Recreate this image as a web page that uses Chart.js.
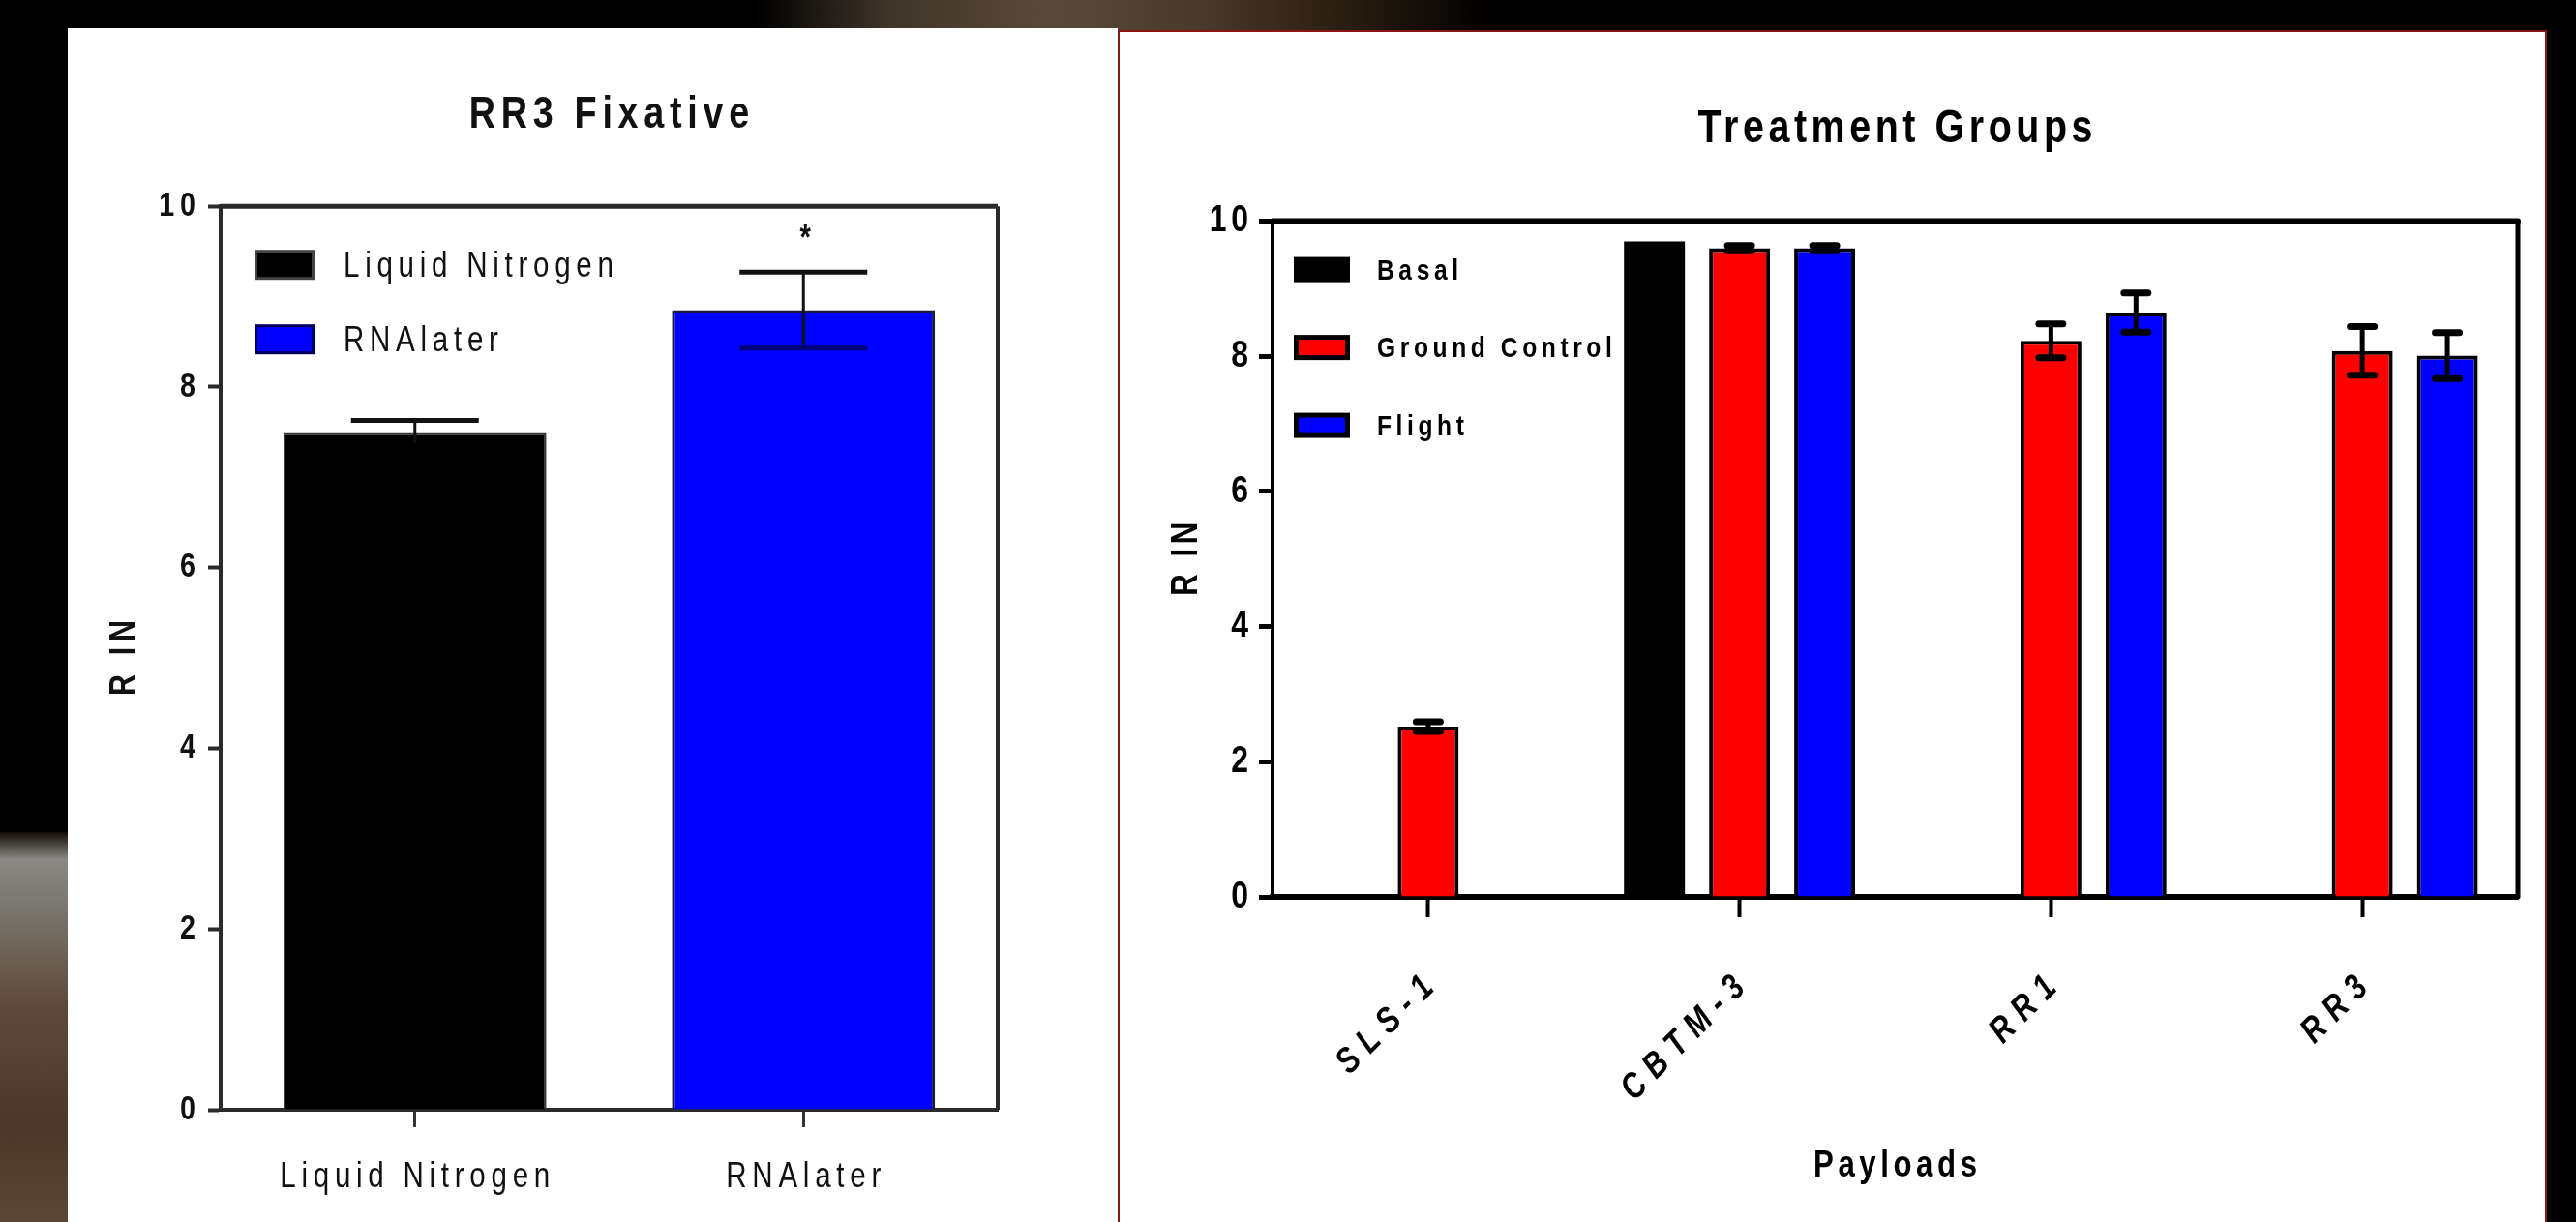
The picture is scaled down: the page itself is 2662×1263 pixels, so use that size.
<!DOCTYPE html>
<html>
<head>
<meta charset="utf-8">
<script src="https://cdn.jsdelivr.net/npm/chart.js@4.4.1/dist/chart.umd.min.js"></script>
<style>
html,body{margin:0;padding:0;background:#000;width:2662px;height:1263px;overflow:hidden;position:relative}
#bgTop{position:absolute;left:780px;top:0;width:760px;height:34px;background:linear-gradient(90deg,rgba(0,0,0,0) 0%,#3e342a 18%,#5a4a3a 40%,#4a3a2a 60%,#2a1e12 80%,rgba(0,0,0,0) 100%)}
#bgLeft{position:absolute;left:0;top:860px;width:70px;height:403px;background:linear-gradient(180deg,#120c08 0%,#8a8884 7%,#76726a 22%,#5e4a3a 45%,#4c3828 75%,#5a4634 100%)}
#p1{position:absolute;left:70px;top:29px;width:1085px;height:1234px;background:#fff}
#p2{position:absolute;left:1155px;top:31px;width:1473px;height:1230px;background:#fff;border:2px solid #8b1414;border-bottom:none}
canvas{display:block}
</style>
</head>
<body>
<div id="bgTop"></div>
<div id="bgLeft"></div>
<div id="p1"><canvas id="c1" width="1085" height="1234"></canvas></div>
<div id="p2"><canvas id="c2" width="1473" height="1230"></canvas></div>
<script>
// ---------- data ----------
const leftTitle = 'RR3 Fixative';
const leftCategories = ['Liquid Nitrogen', 'RNAlater'];
const leftValues = [7.49, 8.85];
const leftErrors = [0.14, 0.42];
const leftMarks = ['', '*'];
const leftColors = ['#000000', '#0000ff'];
const leftTicks = [0, 2, 4, 6, 8, 10];

const rightTitle = 'Treatment Groups';
const rightCategories = ['SLS-1', 'CBTM-3', 'RR1', 'RR3'];
const seriesNames = ['Basal', 'Ground Control', 'Flight'];
const basalValues = [null, 9.70, null, null];
const basalErrors = [null, 0, null, null];
const groundValues = [2.52, 9.60, 8.23, 8.08];
const groundErrors = [0.07, 0.04, 0.25, 0.36];
const flightValues = [null, 9.60, 8.65, 8.01];
const flightErrors = [null, 0.04, 0.29, 0.34];
const seriesColors = ['#000000', '#ff0000', '#0000ff'];
const rightTicks = [0, 2, 4, 6, 8, 10];

const F = "'Liberation Sans',Arial,sans-serif";

// narrow, letter-spaced text (condensed look of the original figure)
function patchCtx(ctx, sx, lsFn) {
  const f = ctx.fillText.bind(ctx), m = ctx.measureText.bind(ctx);
  ctx.fillText = function (t, x, y) {
    const ls = lsFn(this.font);
    const shift = this.textAlign === 'right' || this.textAlign === 'end' ? ls * sx :
                  this.textAlign === 'center' ? ls * sx / 2 : 0;
    this.save();
    this.letterSpacing = ls + 'px';
    this.translate(x + shift, y);
    this.scale(sx, 1);
    f(t, 0, 0);
    this.restore();
  };
  ctx.measureText = function (t) {
    const prev = this.letterSpacing;
    this.letterSpacing = lsFn(this.font) + 'px';
    const r = m(t);
    this.letterSpacing = prev;
    return {
      width: r.width * sx,
      actualBoundingBoxAscent: r.actualBoundingBoxAscent,
      actualBoundingBoxDescent: r.actualBoundingBoxDescent,
      actualBoundingBoxLeft: r.actualBoundingBoxLeft * sx,
      actualBoundingBoxRight: r.actualBoundingBoxRight * sx,
      fontBoundingBoxAscent: r.fontBoundingBoxAscent,
      fontBoundingBoxDescent: r.fontBoundingBoxDescent
    };
  };
}

// ---------- plugins ----------
const framePlugin = {
  id: 'frame',
  afterDatasetsDraw(chart, args, o) {
    const {ctx, chartArea: a} = chart;
    ctx.save();
    ctx.strokeStyle = o.color;
    ctx.lineCap = o.cap || 'butt';
    ctx.lineWidth = o.top;
    ctx.beginPath(); ctx.moveTo(a.left, a.top); ctx.lineTo(a.right, a.top); ctx.stroke();
    ctx.lineWidth = o.right;
    ctx.beginPath(); ctx.moveTo(a.right, a.top); ctx.lineTo(a.right, a.bottom); ctx.stroke();
    ctx.restore();
  }
};

const errorPlugin = {
  id: 'errbars',
  afterDatasetsDraw(chart, args, o) {
    const ctx = chart.ctx, ys = chart.scales.y;
    chart.data.datasets.forEach((ds, i) => {
      const meta = chart.getDatasetMeta(i);
      meta.data.forEach((bar, j) => {
        const v = ds.data[j], e = ds.errorBars ? ds.errorBars[j] : null;
        if (v == null || !e) return;
        const yt = ys.getPixelForValue(v + e), yb = ys.getPixelForValue(v - e);
        ctx.save();
        ctx.lineCap = o.cap;
        ctx.strokeStyle = o.color;
        ctx.lineWidth = o.stem;
        ctx.beginPath(); ctx.moveTo(bar.x, yt); ctx.lineTo(bar.x, yb); ctx.stroke();
        ctx.lineWidth = o.capThick;
        ctx.beginPath(); ctx.moveTo(bar.x - o.capHalf, yt); ctx.lineTo(bar.x + o.capHalf, yt); ctx.stroke();
        ctx.strokeStyle = (o.lowerColors && o.lowerColors[j]) || o.color;
        ctx.beginPath(); ctx.moveTo(bar.x - o.capHalf, yb); ctx.lineTo(bar.x + o.capHalf, yb); ctx.stroke();
        if (ds.marks && ds.marks[j]) {
          ctx.fillStyle = '#111';
          ctx.font = o.markFont;
          ctx.textAlign = 'center';
          ctx.textBaseline = 'middle';
          ctx.fillText(ds.marks[j], bar.x + 2, yt - o.markGap);
        }
        ctx.restore();
      });
    });
  }
};

const legendPlugin = {
  id: 'boxLegend',
  afterDatasetsDraw(chart, args, o) {
    const {ctx, chartArea: a} = chart;
    let items;
    if (o.mode === 'labels') {
      const ds = chart.data.datasets[0];
      items = chart.data.labels.map((t, k) => ({text: t, fill: ds.backgroundColor[k], border: o.borders[k]}));
    } else {
      items = chart.data.datasets.map((ds, k) => ({text: ds.label, fill: ds.backgroundColor, border: o.borders[k]}));
    }
    ctx.save();
    items.forEach((it, k) => {
      const x = a.left + o.dx, y = a.top + o.dy + k * o.pitch;
      ctx.fillStyle = it.border; ctx.fillRect(x, y, o.w, o.h);
      ctx.fillStyle = it.fill; ctx.fillRect(x + o.bw, y + o.bw, o.w - 2 * o.bw, o.h - 2 * o.bw);
      ctx.fillStyle = o.color;
      ctx.font = o.font;
      ctx.textAlign = 'left';
      ctx.textBaseline = 'middle';
      ctx.fillText(it.text, x + o.w + o.gap, y + o.h / 2 + 2);
    });
    ctx.restore();
  }
};

// ---------- left chart ----------
const c1 = document.getElementById('c1');
patchCtx(c1.getContext('2d'), 0.82, font => 7);
new Chart(c1, {
  type: 'bar',
  data: {
    labels: leftCategories,
    datasets: [{
      label: 'RIN',
      data: leftValues,
      errorBars: leftErrors,
      marks: leftMarks,
      backgroundColor: leftColors,
      borderColor: ['#3a3a3a', '#1a1a3a'],
      borderWidth: [2, 3],
      categoryPercentage: 1,
      barPercentage: 0.677
    }]
  },
  options: {
    responsive: false, animation: false, devicePixelRatio: 1,
    layout: {padding: {left: 0, right: 124, top: 0, bottom: 0}},
    plugins: {
      legend: {display: false},
      tooltip: {enabled: false},
      title: {display: true, text: leftTitle, fullSize: false, color: '#111',
        font: {family: F, size: 46, weight: 'bold'}, padding: {top: 63, bottom: 66}},
      frame: {color: '#2a2a2a', top: 5, right: 4},
      errbars: {color: '#111', stem: 3, capThick: 5, capHalf: 66, cap: 'butt',
        lowerColors: ['#000', '#00007a'], markFont: "bold 36px " + F, markGap: 33},
      boxLegend: {mode: 'labels', borders: ['#444', '#00005a'], dx: 35, dy: 45, pitch: 77,
        w: 62, h: 31, bw: 3, gap: 30, color: '#111', font: "36px " + F}
    },
    scales: {
      x: {
        grid: {display: true, drawOnChartArea: false, offset: false, tickLength: 18, tickWidth: 3, tickColor: '#333'},
        border: {display: true, color: '#2a2a2a', width: 4},
        ticks: {color: '#111', font: {family: F, size: 36}, padding: 30, maxRotation: 0, autoSkip: false},
        afterFit(s) { s.height = 116; }
      },
      y: {
        min: 0, max: 10,
        afterBuildTicks(s) { s.ticks = leftTicks.map(v => ({value: v})); },
        ticks: {color: '#111', font: {family: F, size: 35, weight: 'bold'}, padding: 13},
        grid: {display: true, drawOnChartArea: false, tickLength: 13, tickWidth: 4, tickColor: '#2a2a2a'},
        border: {display: true, color: '#2a2a2a', width: 4},
        title: {display: true, text: 'R IN', color: '#111', font: {family: F, size: 37, weight: 'bold'}, padding: {top: 37, bottom: 0}},
        afterFit(s) { s.width = 158; }
      }
    }
  },
  plugins: [framePlugin, errorPlugin, legendPlugin]
});

// ---------- right chart ----------
const c2 = document.getElementById('c2');
patchCtx(c2.getContext('2d'), 0.82, font => (font.indexOf('italic') >= 0 ? 12 : 5.6));
new Chart(c2, {
  type: 'bar',
  data: {
    labels: rightCategories,
    datasets: [
      {label: seriesNames[0], data: basalValues, errorBars: basalErrors, backgroundColor: seriesColors[0], borderColor: '#000', borderWidth: 0},
      {label: seriesNames[1], data: groundValues, errorBars: groundErrors, backgroundColor: seriesColors[1], borderColor: '#000', borderWidth: 4},
      {label: seriesNames[2], data: flightValues, errorBars: flightErrors, backgroundColor: seriesColors[2], borderColor: '#000', borderWidth: 4}
    ]
  },
  options: {
    responsive: false, animation: false, devicePixelRatio: 1,
    datasets: {bar: {categoryPercentage: 0.82, barPercentage: 0.716}},
    layout: {padding: {left: 0, right: 28, top: 0, bottom: 0}},
    plugins: {
      legend: {display: false},
      tooltip: {enabled: false},
      title: {display: true, text: rightTitle, fullSize: false, color: '#000',
        font: {family: F, size: 48, weight: 'bold'}, padding: {top: 72, bottom: 66}},
      frame: {color: '#000', top: 6, right: 5, cap: 'round'},
      errbars: {color: '#000', stem: 5, capThick: 7, capHalf: 12.5, cap: 'round'},
      boxLegend: {mode: 'datasets', borders: ['#000', '#000', '#000'], dx: 22, dy: 37, pitch: 80.5,
        w: 58, h: 26, bw: 5, gap: 28, color: '#000', font: "bold 30px " + F}
    },
    scales: {
      x: {
        grid: {display: true, drawOnChartArea: false, offset: false, tickLength: 21, tickWidth: 4, tickColor: '#000'},
        border: {display: true, color: '#000', width: 6},
        ticks: {color: '#000', font: {family: F, size: 37, weight: 'bold', style: 'italic'}, padding: 52,
          minRotation: 45, maxRotation: 45, autoSkip: false},
        title: {display: true, text: 'Payloads', color: '#000', font: {family: F, size: 38, weight: 'bold'}, padding: {top: 0, bottom: 35}},
        afterFit(s) { s.height = 336; }
      },
      y: {
        min: 0, max: 10,
        afterBuildTicks(s) { s.ticks = rightTicks.map(v => ({value: v})); },
        ticks: {color: '#000', font: {family: F, size: 39, weight: 'bold'}, padding: 11},
        grid: {display: true, drawOnChartArea: false, tickLength: 14, tickWidth: 5, tickColor: '#000'},
        border: {display: true, color: '#000', width: 4},
        title: {display: true, text: 'R IN', color: '#000', font: {family: F, size: 38, weight: 'bold'}, padding: {top: 47, bottom: 0}},
        afterFit(s) { s.width = 158; }
      }
    }
  },
  plugins: [framePlugin, errorPlugin, legendPlugin]
});
</script>
</body>
</html>
